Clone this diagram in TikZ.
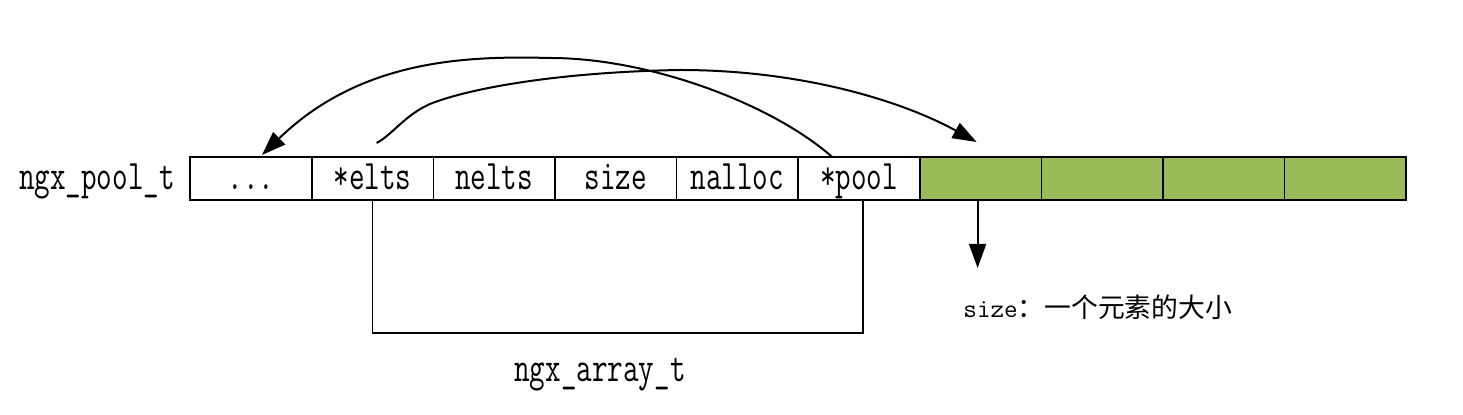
\documentclass[tikz,border=0pt]{standalone}
\usepackage{fontspec}
\newfontfamily\cjk{Noto Sans CJK SC}
\usetikzlibrary{positioning,arrows.meta}
\definecolor{eltgreen}{RGB}{155,187,89}
\newcommand\cond[1]{\scalebox{0.72}[1]{\fontsize{21}{25}\selectfont\ttfamily #1}}
\tikzset{
	cell/.style={draw, line width=0.8pt, minimum width=60.8pt, minimum height=21.5pt, inner sep=0pt, outer sep=0pt, text height=12.8pt, text depth=1.8pt},
	elt/.style={cell, fill=eltgreen},
	lbl/.style={inner sep=0pt, text height=12.8pt, text depth=1.8pt},
	ptr/.style={line width=1pt, -{Triangle[width=8.5pt,length=12pt]}}
}

\begin{document}
\begin{tikzpicture}[x=0.5pt, y=0.5pt]
			%%%%% START %%%%%
			\useasboundingbox (0,0) rectangle (1463,-415);
			
			\node[cell] (dots) at (251,-178.5) {\cond{...}};
			\node[cell, right=0pt of dots] (elts) {\cond{*elts}};
			\node[cell, right=0pt of elts] (nelts) {\cond{nelts}};
			\node[cell, right=0pt of nelts] (size) {\cond{size}};
			\node[cell, right=0pt of size] (nalloc) {\cond{nalloc}};
			\node[cell, right=0pt of nalloc] (pool) {\cond{*pool}};
			
			\node[elt, right=0pt of pool] (g1) {};
			\node[elt, right=0pt of g1] (g2) {};
			\node[elt, right=0pt of g2] (g3) {};
			\node[elt, right=0pt of g3] (g4) {};
			
			\node[lbl, left=7.5pt of dots] (pooltype) {\cond{ngx\_pool\_t}};
			\node[lbl] (arraytype) at (600,-371) {\cond{ngx\_array\_t}};
			\node[inner sep=0pt, anchor=base west] (sizenote) at (963,-318) {{\fontsize{13.2}{15}\selectfont\ttfamily size}{\cjk\fontsize{13.4}{15}\selectfont ：一个元素的大小}};
			
			% ngx_array_t bracket
			\coordinate (arrcorner) at ([xshift=2pt,yshift=-66.5pt]pool.south);
			\draw[line width=0.8pt] (elts.south) |- (arrcorner) -- ([xshift=2pt]pool.south);
			
			% *pool -> pool
			\draw[ptr] ([xshift=-13.4pt]pool.north) .. controls (772,-104) and (650,-58) .. (550,-58)
				.. controls (470,-56) and (362,-58) .. ([xshift=5.5pt,yshift=1pt]dots.north);
			
			% *elts -> elements
			\draw[ptr] ([xshift=2pt,yshift=7pt]elts.north) .. controls (392,-135) and (405,-115) .. (430,-104)
				.. controls (470,-88) and (560,-72) .. (680,-70)
				.. controls (800,-70) and (900,-100) .. ([xshift=-2pt,yshift=7.5pt]g1.north);
			
			% element size
			\coordinate (sizetip) at ([xshift=-1.5pt,yshift=-34pt]g1.south);
			\draw[ptr] ([xshift=-1.5pt]g1.south) -- (sizetip);
			%%%%% END %%%%%
\end{tikzpicture}
\end{document}
